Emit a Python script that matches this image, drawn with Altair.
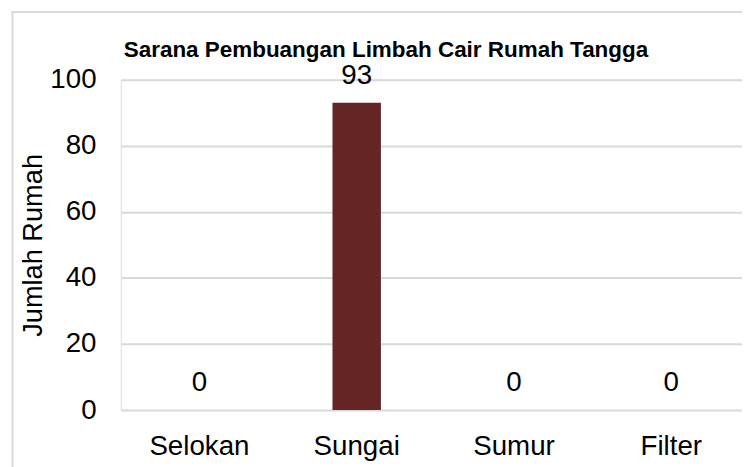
import altair as alt
import pandas as pd

categories = ["Selokan", "Sungai", "Sumur", "Filter"]
values = [0, 93, 0, 0]
y_ticks = [0, 20, 40, 60, 80, 100]
title_text = "Sarana Pembuangan Limbah Cair Rumah Tangga"
y_title = "Jumlah Rumah"

df = pd.DataFrame({"kategori": categories, "jumlah": values})

FONT = "Liberation Sans"
GRID = "#d9d9d9"
BAR = "#652524"

x_enc = alt.X(
    "kategori:N",
    sort=categories,
    scale=alt.Scale(range=[0, 636], paddingInner=0.692, paddingOuter=0.346),
    axis=alt.Axis(
        title=None, labelAngle=0, ticks=False, tickSize=0, domain=False,
        labelFontSize=28, labelFont=FONT, labelColor="#000000", labelPadding=23,
        grid=False,
    ),
)
y_enc = alt.Y(
    "jumlah:Q",
    scale=alt.Scale(domain=[0, 100], nice=False),
    axis=alt.Axis(
        title=y_title, values=y_ticks, ticks=False, tickSize=0, domain=False,
        labelFontSize=28, labelFont=FONT, labelColor="#000000", labelPadding=25,
        grid=True, gridColor=GRID, gridWidth=2,
        titleFontSize=27.5, titleFont=FONT, titleFontWeight="normal", titleColor="#000000",
        titleAngle=270, titleX=-88, titleY=167, titleAlign="center", titleBaseline="middle",
    ),
)

base = alt.Chart(df)
bars = base.mark_bar(color=BAR).encode(x=x_enc, y=y_enc)
labels = base.mark_text(
    dy=-19, baseline="alphabetic", align="center", fontSize=28, font=FONT, color="#000000"
).encode(x=alt.X("kategori:N", sort=categories), y="jumlah:Q", text="jumlah:Q")

one_row = pd.DataFrame({"judul": [title_text]})
title_mark = alt.Chart(one_row).mark_text(
    align="left", baseline="alphabetic", fontSize=22.7, fontWeight="bold", font=FONT, color="#000000"
).encode(x=alt.value(3), y=alt.value(-23), text="judul:N")

left_border = alt.Chart(one_row).mark_rule(color=GRID, strokeWidth=2).encode(
    x=alt.value(-109.5), y=alt.value(-68.5), y2=alt.value(420)
)
top_border = alt.Chart(one_row).mark_rule(color=GRID, strokeWidth=2).encode(
    x=alt.value(-110.5), x2=alt.value(700), y=alt.value(-68.5)
)

chart = alt.layer(left_border, top_border, bars, labels, title_mark).properties(
    width=628,
    height=334,
    padding={"left": 114, "top": 70, "right": 0, "bottom": 55},
    autosize=alt.AutoSizeParams(type="none"),
).configure_view(stroke=None).configure(background="#ffffff")

chart.save("out.html", embed_options={"renderer": "svg", "actions": False})
